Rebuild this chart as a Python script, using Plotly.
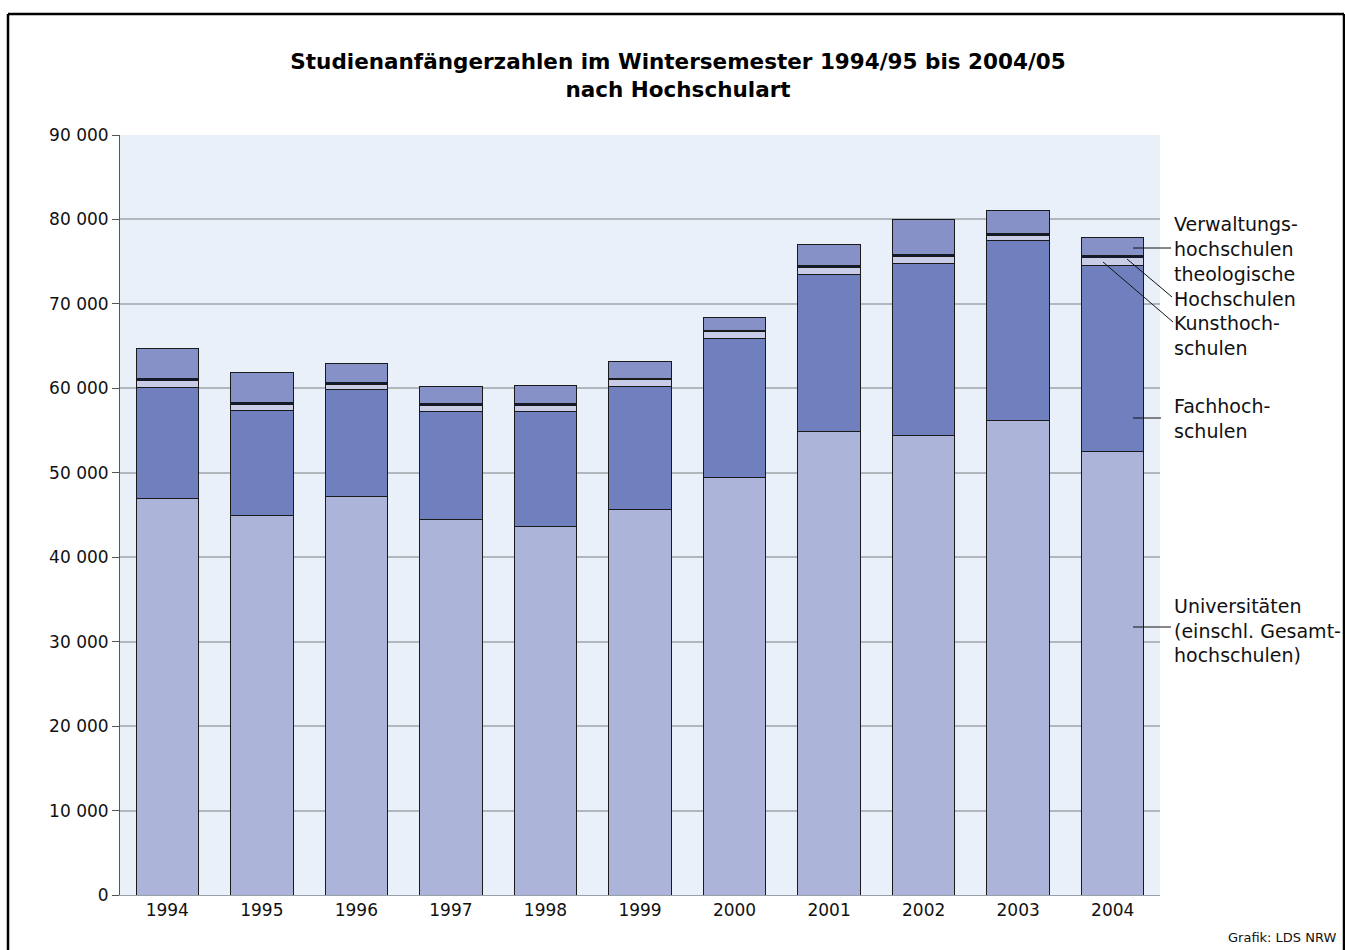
import plotly.graph_objects as go

years = ["1994", "1995", "1996", "1997", "1998", "1999", "2000", "2001", "2002", "2003", "2004"]
universitaeten = [46900, 44900, 47150, 44430, 43600, 45620, 49450, 54940, 54470, 56170, 52570]
fachhochschulen = [13250, 12490, 12700, 12810, 13710, 14620, 16440, 18580, 20350, 21380, 22020]
kunsthochschulen = [720, 680, 630, 710, 710, 750, 790, 790, 790, 590, 910]
theologische = [280, 270, 230, 270, 200, 180, 150, 190, 190, 200, 190]
verwaltung = [3510, 3480, 2180, 1980, 2100, 2040, 1570, 2530, 4200, 2760, 2180]

y_tickvals = [0, 10000, 20000, 30000, 40000, 50000, 60000, 70000, 80000, 90000]
y_ticktext = ["0", "10 000", "20 000", "30 000", "40 000", "50 000", "60 000", "70 000", "80 000", "90 000"]

series = [
    ("Universitäten", universitaeten, "#adb4da"),
    ("Fachhochschulen", fachhochschulen, "#7080be"),
    ("Kunsthochschulen", kunsthochschulen, "#c9cce6"),
    ("theologische Hochschulen", theologische, "#0e1a3c"),
    ("Verwaltungshochschulen", verwaltung, "#8591c7"),
]

fig = go.Figure()
for name, vals, col in series:
    fig.add_trace(go.Bar(
        x=years, y=vals, name=name,
        marker=dict(color=col, line=dict(color="#1a1a1a", width=1)),
        showlegend=False,
    ))

W, H = 1345, 950
L, R, T, B = 120, 1160, 135, 895

def px(x):
    return (x - L) / (R - L)

def py(y):
    return (B - y) / (B - T)

FONT = "DejaVu Sans"

fig.update_layout(
    width=W, height=H,
    barmode="stack", bargap=0.34,
    margin=dict(l=L, r=W - R, t=T, b=H - B, pad=0),
    paper_bgcolor="white", plot_bgcolor="#e9f0fa",
    font=dict(family=FONT, size=17, color="#111111"),
    title=dict(
        text="<b>Studienanfängerzahlen im Wintersemester 1994/95 bis 2004/05<br>nach Hochschulart</b>",
        x=px(678), xref="paper", xanchor="center",
        y=1 - 69 / H, yanchor="middle",
        font=dict(family=FONT, size=21.5, color="#000000"),
    ),
    xaxis=dict(
        showgrid=False, showline=True, linecolor="#9aa0a8", linewidth=1,
        ticks="", tickfont=dict(size=17, color="#111111"),
    ),
    yaxis=dict(
        range=[0, 90000], tickvals=y_tickvals, ticktext=y_ticktext,
        showgrid=True, gridcolor="#b2b6bd", gridwidth=2,
        showline=True, linecolor="#555555", linewidth=1,
        ticks="outside", ticklen=7, tickcolor="#555555",
        tickfont=dict(size=17, color="#111111"), zeroline=False,
    ),
)

# legend labels
labels = [
    ("Verwaltungs-<br>hochschulen", 236),
    ("theologische<br>Hochschulen", 286),
    ("Kunsthoch-<br>schulen", 335),
    ("Fachhoch-<br>schulen", 418),
    ("Universitäten<br>(einschl. Gesamt-<br>hochschulen)", 630),
]
for txt, ypix in labels:
    fig.add_annotation(
        text=txt, xref="paper", yref="paper", x=px(1172), y=py(ypix),
        xanchor="left", yanchor="middle", showarrow=False, align="left",
        font=dict(family=FONT, size=19, color="#111111"),
    )

# leader lines
leaders = [
    (1133, 248, 1171, 248),
    (1127, 259, 1172, 297),
    (1103, 262, 1173, 322),
    (1133, 418, 1161, 418),
    (1133, 627, 1171, 627),
]
for x0, y0, x1, y1 in leaders:
    fig.add_shape(type="line", xref="paper", yref="paper",
                  x0=px(x0), y0=py(y0), x1=px(x1), y1=py(y1),
                  line=dict(color="#111111", width=1))

# outer frame
fig.add_shape(type="line", xref="paper", yref="paper",
              x0=px(8), y0=py(14), x1=px(8), y1=py(952), line=dict(color="black", width=2.5))
fig.add_shape(type="line", xref="paper", yref="paper",
              x0=px(8), y0=py(14), x1=px(1344), y1=py(14), line=dict(color="black", width=2.5))
fig.add_shape(type="line", xref="paper", yref="paper",
              x0=px(1344), y0=py(14), x1=px(1344), y1=py(952), line=dict(color="black", width=2.5))

fig.add_annotation(
    text="Grafik: LDS NRW", xref="paper", yref="paper", x=px(1338), y=py(937),
    xanchor="right", yanchor="middle", showarrow=False,
    font=dict(family=FONT, size=13, color="#111111"),
)

fig.write_html("out.html", config={"displayModeBar": False},
               post_script="document.body.style.margin='0';document.body.style.overflow='hidden';")
